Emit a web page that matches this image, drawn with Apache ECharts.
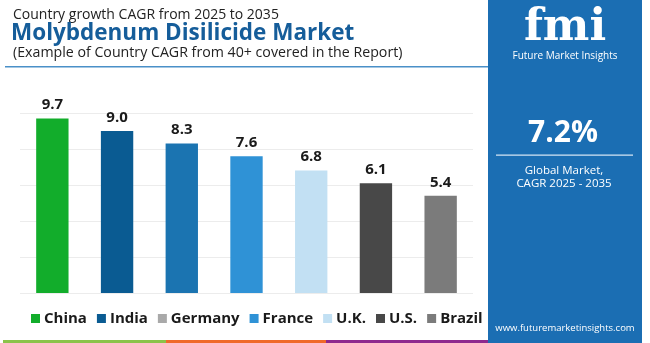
<!DOCTYPE html>
<html><head><meta charset="utf-8">
<script src="https://cdn.jsdelivr.net/npm/echarts@6/dist/echarts.min.js"></script>
<style>html,body{margin:0;padding:0;background:#fff}#c{width:650px;height:343px}</style>
</head><body><div id="c"></div>
<script>
const categories = ['China','India','Germany','France','U.K.','U.S.','Brazil'];
const values = [9.7, 9.0, 8.3, 7.6, 6.8, 6.1, 5.4];
const barColors = ['#12ad2b','#0a5b92','#1b74b1','#2f92d6','#c2e0f3','#484848','#7b7b7b'];
const legendColors = ['#12ad2b','#0a5b92','#a9a9a9','#2f92d6','#c2e0f3','#484848','#7b7b7b'];
const yTicks = [0,2,4,6,8,10];

const chart = echarts.init(document.getElementById('c'));
const series = categories.map((name,i)=>({
  name, type:'bar', stack:'all', barWidth:'50%',
  data: categories.map((c,j)=> j===i ? values[i] : null),
  itemStyle:{color:barColors[i]},
  label:{show:true, position:'top', distance:6, formatter:p=>p.value.toFixed(1),
    fontFamily:'Open Sans', fontWeight:'bold', fontSize:15, color:'#1a1a1a'}
}));
const F = 'Open Sans';
chart.setOption({
  animation:false,
  grid:{left:20, right:177, top:113, bottom:50, containLabel:false},
  xAxis:{type:'category', data:categories, axisLine:{show:false}, axisTick:{show:false}, axisLabel:{show:false}},
  yAxis:{type:'value', min:yTicks[0], max:yTicks[yTicks.length-1], interval:2,
    axisLabel:{show:false}, axisLine:{show:false}, axisTick:{show:false},
    splitLine:{lineStyle:{color:'#ececec', width:1}}},
  legend:{left:26, top:306, itemWidth:9, itemHeight:9, itemGap:10, icon:'rect',
    textStyle:{fontFamily:F, fontWeight:'bold', fontSize:15, color:'#1a1a1a', padding:[0,0,0,-1]},
    data: categories.map((n,i)=>({name:n, itemStyle:{color:legendColors[i]}}))},
  series,
  graphic:[
    {type:'text', x:13, y:15, style:{text:'Country growth CAGR from 2025 to 2035', fontFamily:F, fontSize:14, fill:'#222', verticalAlign:'middle'}},
    {type:'text', x:11, y:34, style:{text:'Molybdenum Disilicide Market', fontFamily:F, fontWeight:'bold', fontSize:22.5, fill:'#155d9a', verticalAlign:'middle'}},
    {type:'text', x:13, y:53, style:{text:'(Example of Country CAGR from 40+ covered in the Report)', fontFamily:F, fontSize:14.2, fill:'#222', verticalAlign:'middle'}},
    {type:'rect', shape:{x:5, y:66, width:483, height:1.5}, style:{fill:'#4a90c8'}},
    {type:'rect', shape:{x:488, y:0, width:154, height:343}, style:{fill:'#1b6eb3'}},
    {type:'text', x:565, y:29, style:{text:'fmi', fontFamily:'DejaVu Serif', fontWeight:'bold', fontSize:44, fill:'#fff', align:'center', verticalAlign:'middle'}},
    {type:'text', x:565, y:56, style:{text:'Future Market Insights', fontFamily:F, fontSize:10, fill:'#fff', align:'center', verticalAlign:'middle'}},
    {type:'text', x:563, y:133, style:{text:'7.2%', fontFamily:F, fontWeight:'bold', fontSize:30, fill:'#fff', align:'center', verticalAlign:'middle'}},
    {type:'rect', shape:{x:496, y:154.5, width:137, height:1.2}, style:{fill:'#d6e6f4'}},
    {type:'text', x:564, y:171, style:{text:'Global Market,', fontFamily:F, fontSize:11.5, fill:'#fff', align:'center', verticalAlign:'middle'}},
    {type:'text', x:564, y:184, style:{text:'CAGR 2025 - 2035', fontFamily:F, fontSize:11.5, fill:'#fff', align:'center', verticalAlign:'middle'}},
    {type:'text', x:565, y:328, style:{text:'www.futuremarketinsights.com', fontFamily:F, fontSize:9.5, fill:'#fff', align:'center', verticalAlign:'middle'}},
    {type:'rect', shape:{x:3, y:340, width:163, height:3}, style:{fill:'#8bc34a'}},
    {type:'rect', shape:{x:166, y:340, width:160, height:3}, style:{fill:'#f06a2a'}},
    {type:'rect', shape:{x:326, y:340, width:162, height:3}, style:{fill:'#8e2a8e'}}
  ]
});
</script></body></html>
